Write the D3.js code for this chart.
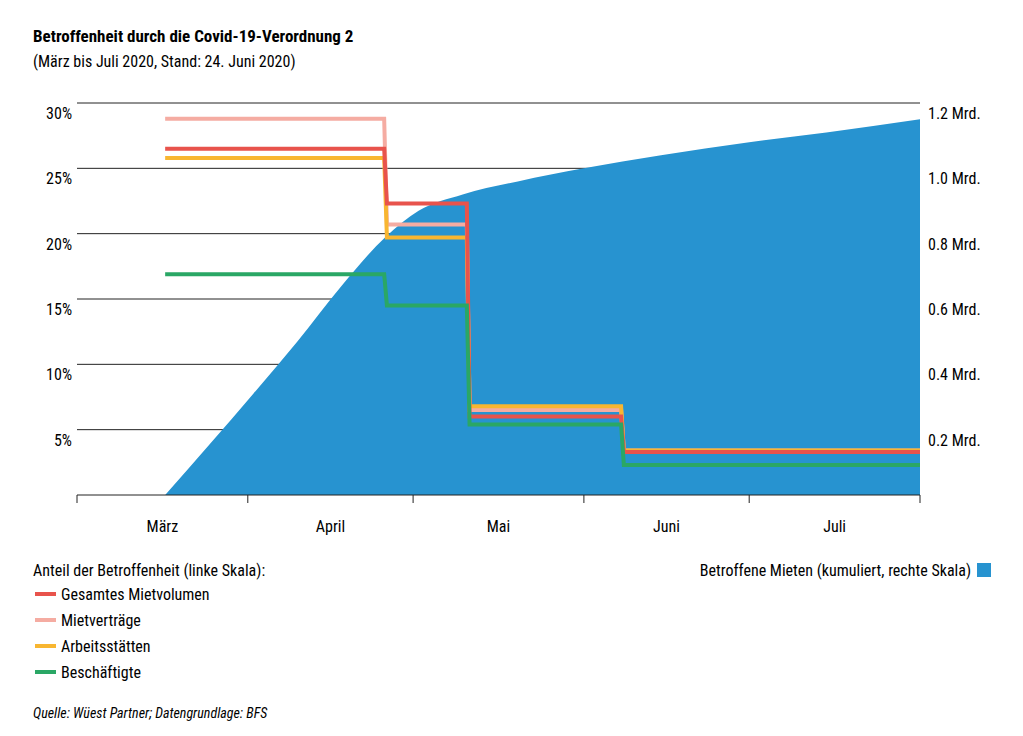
<!DOCTYPE html><html><head><meta charset="utf-8">
<script src="https://cdn.jsdelivr.net/npm/d3@7"></script>
<style>body{margin:0;background:#fff;font-family:"Roboto Condensed","Liberation Sans Narrow","Roboto",sans-serif}</style></head><body>
<svg id="c" width="1023" height="736"></svg>
<script>
const monthLabels=["März","April","Mai","Juni","Juli"];
const leftTicks=[5,10,15,20,25,30];
const rightTicks=[0.2,0.4,0.6,0.8,1.0,1.2];
const areaDates=["2020-03-17","2020-04-02","2020-04-10","2020-04-18","2020-04-26","2020-05-02","2020-05-10","2020-05-20","2020-06-01","2020-06-15","2020-07-01","2020-07-15","2020-08-01"];
const areaValues=[0,0.31,0.47,0.64,0.79,0.87,0.92,0.96,1.0,1.04,1.08,1.11,1.15];
const stepDates=["2020-03-17","2020-04-26","2020-05-11","2020-06-08","2020-08-01"];
const gesamt=[26.5,22.3,6.0,3.3];
const vertraege=[28.8,20.7,6.5,3.4];
const arbeit=[25.8,19.7,6.8,3.4];
const besch=[16.9,14.5,5.4,2.3];
const seriesNames=["Gesamtes Mietvolumen","Mietverträge","Arbeitsstätten","Beschäftigte"];
const colors=["#e8534c","#f5aca2","#f8b631","#2aa765"];

const svg=d3.select("#c"),p=d3.timeParse("%Y-%m-%d");
const x=d3.scaleTime().domain([p("2020-03-01"),p("2020-08-01")]).range([77,920]);
const yL=d3.scaleLinear().domain([0,30]).range([495,103]);
const yR=d3.scaleLinear().domain([0,1.2]).range([495,103]);
svg.append("text").attr("x",33).attr("y",42).attr("font-weight","bold").attr("font-size",17).text("Betroffenheit durch die Covid-19-Verordnung 2");
svg.append("text").attr("x",33).attr("y",67).attr("font-size",16).text("(März bis Juli 2020, Stand: 24. Juni 2020)");
svg.append("g").selectAll("line").data(leftTicks).join("line").attr("x1",77).attr("x2",920).attr("y1",d=>yL(d)).attr("y2",d=>yL(d)).attr("stroke","#222").attr("stroke-width",1);
const ad=areaDates.map((d,i)=>({d:p(d),v:areaValues[i]}));
svg.append("path").datum(ad).attr("fill","#2793d0").attr("d",d3.area().x(d=>x(d.d)).y0(yR(0)).y1(d=>yR(d.v)).curve(d3.curveMonotoneX));
[gesamt,vertraege,arbeit,besch].forEach((s,k)=>{
  const pts=[];
  s.forEach((v,i)=>{const a=p(stepDates[i]),b=p(stepDates[i+1]);
    pts.push([a,v]);pts.push([i<s.length-1?d3.timeDay.offset(b,-1):b,v]);});
  const order=[1,2,3,0];
});
[1,2,0,3].forEach(k=>{
  const s=[gesamt,vertraege,arbeit,besch][k];const pts=[];
  s.forEach((v,i)=>{const a=p(stepDates[i]),b=p(stepDates[i+1]);
    pts.push([i>0?d3.timeHour.offset(a,6):a,v]);pts.push([i<s.length-1?d3.timeHour.offset(b,-6):b,v]);});
  svg.append("path").datum(pts).attr("fill","none").attr("stroke",colors[k]).attr("stroke-width",4).attr("d",d3.line().x(d=>x(d[0])).y(d=>yL(d[1])));
});
svg.append("line").attr("x1",77).attr("x2",920).attr("y1",495).attr("y2",495).attr("stroke","#222");
const mt=d3.timeMonth.range(p("2020-03-01"),p("2020-08-02"));
svg.selectAll(".mt").data(mt).join("line").attr("x1",d=>x(d)).attr("x2",d=>x(d)).attr("y1",495).attr("y2",503).attr("stroke","#222");
svg.selectAll(".ml").data(monthLabels).join("text").attr("x",(d,i)=>(x(mt[i])+x(mt[i+1]))/2).attr("y",532).attr("text-anchor","middle").attr("font-size",16).text(d=>d);
svg.selectAll(".lt").data(leftTicks).join("text").attr("x",72).attr("y",d=>yL(d)+16).attr("text-anchor","end").attr("font-size",16).text(d=>d+"%");
svg.selectAll(".rt").data(rightTicks).join("text").attr("x",928).attr("y",d=>yR(d)+16).attr("font-size",16).text(d=>d.toFixed(1)+" Mrd.");
svg.append("text").attr("x",33).attr("y",576).attr("font-size",16).text("Anteil der Betroffenheit (linke Skala):");
seriesNames.forEach((n,i)=>{const yy=600+i*26;
  svg.append("line").attr("x1",35).attr("x2",56).attr("y1",yy-6).attr("y2",yy-6).attr("stroke",colors[i]).attr("stroke-width",4);
  svg.append("text").attr("x",61).attr("y",yy).attr("font-size",16).text(n);});
svg.append("text").attr("x",971).attr("y",576).attr("text-anchor","end").attr("font-size",16).text("Betroffene Mieten (kumuliert, rechte Skala)");
svg.append("rect").attr("x",977).attr("y",563).attr("width",14).attr("height",14).attr("fill","#2793d0");
svg.append("text").attr("x",33).attr("y",718).attr("font-size",14).attr("font-style","italic").text("Quelle: Wüest Partner; Datengrundlage: BFS");
</script></body></html>
